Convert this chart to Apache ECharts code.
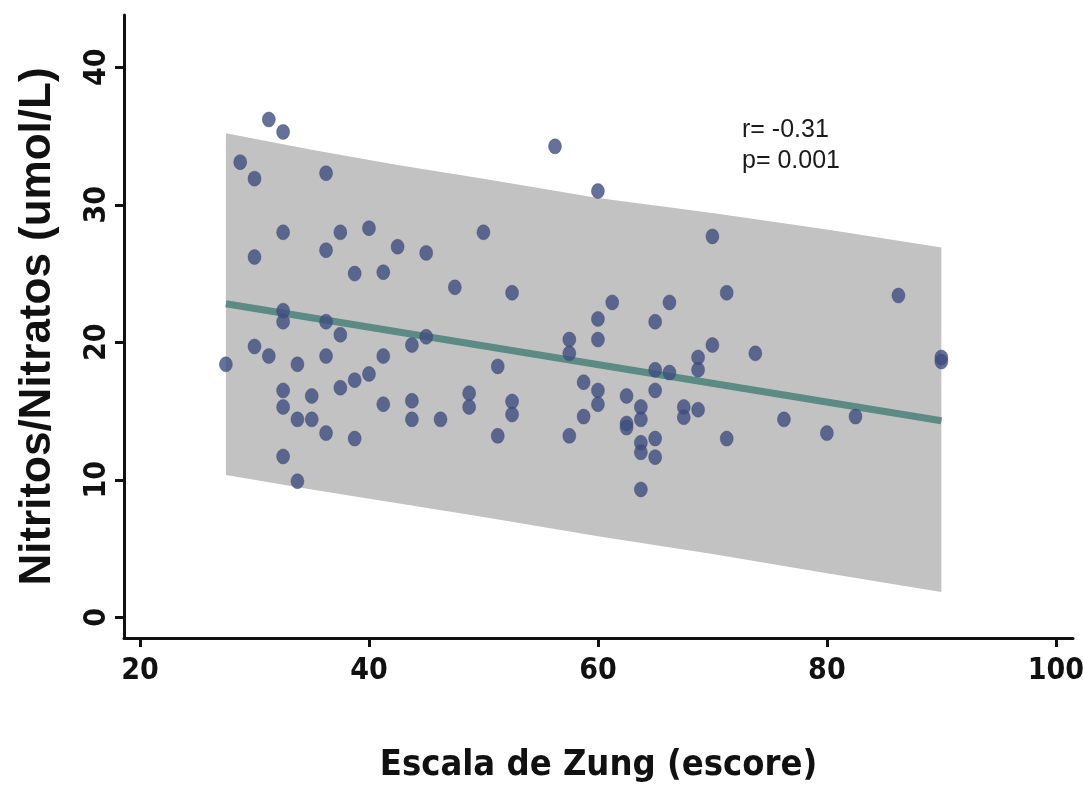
<!DOCTYPE html>
<html>
<head>
<meta charset="utf-8">
<script src="https://cdn.jsdelivr.net/npm/echarts@6/dist/echarts.min.js"></script>
<style>
  html, body { margin: 0; padding: 0; background: #fff; }
  #chart { width: 1083px; height: 794px; }
</style>
</head>
<body>
<div id="chart"></div>
<script>
// Zung depression scale score vs. nitrite/nitrate level
const zungScore = [
  31.25, 32.5, 28.75, 30, 32.5, 30, 36.25, 37.5, 40, 42.5,
  45, 50, 36.25, 38.75, 41.25, 47.5, 32.5, 32.5, 36.25, 37.5,
  45, 30, 43.75, 31.25, 36.25, 41.25, 27.5, 33.75, 51.25, 40,
  38.75, 37.5, 32.5, 35, 48.75, 41.25, 43.75, 32.5, 48.75, 33.75,
  35, 43.75, 46.25, 36.25, 38.75, 51.25, 32.5, 33.75, 56.25, 60,
  70, 52.5, 71.25, 61.25, 66.25, 60, 65, 57.5, 60, 70,
  73.75, 57.5, 68.75, 68.75, 65, 66.25, 58.75, 60, 65, 52.5,
  52.5, 60, 62.5, 63.75, 63.75, 67.5, 67.5, 68.75, 58.75, 62.5,
  62.5, 57.5, 65, 63.75, 63.75, 65, 71.25, 63.75, 86.25, 90,
  90, 76.25, 80, 82.5
];
const nitritos = [
  36.2, 35.3, 33.1, 31.9, 28.0, 26.2, 32.3, 28.0, 28.3, 26.95,
  26.5, 28.0, 26.7, 25.0, 25.1, 24.0, 22.3, 21.5, 21.5, 20.55,
  20.4, 19.7, 19.8, 19.0, 19.0, 19.0, 18.4, 18.4, 18.25, 17.7,
  17.25, 16.7, 16.5, 16.1, 16.3, 15.5, 15.75, 15.3, 15.3, 14.4,
  14.4, 14.4, 14.4, 13.4, 13.0, 13.2, 11.7, 9.9, 34.25, 31.0,
  27.7, 23.6, 23.6, 22.9, 22.9, 21.7, 21.5, 20.2, 20.2, 19.8,
  19.2, 19.2, 18.9, 18.0, 18.0, 17.8, 17.1, 16.5, 16.5, 15.7,
  14.75, 15.5, 16.1, 15.3, 14.4, 15.3, 14.55, 15.1, 14.6, 14.1,
  13.8, 13.2, 13.0, 12.7, 12.0, 11.65, 13.0, 9.3, 23.4, 18.6,
  18.9, 14.4, 13.4, 14.6
];

// Regression line end points
const fitX = [27.5, 90];
const fitY = [22.8, 14.3];

// Prediction band edges
const bandX = [27.5, 35, 42.5, 50, 60, 70, 80, 90];
const bandUpper = [35.2, 34.0, 32.9, 31.9, 30.5, 29.4, 28.2, 26.9];
const bandLower = [10.35, 9.3, 8.3, 7.3, 5.9, 4.6, 3.2, 1.85];

const xTicks = [20, 40, 60, 80, 100];
const yTicks = [0, 10, 20, 30, 40];

const statsText = ['r= -0.31', 'p= 0.001'];

const narrow = "'Liberation Sans Narrow', 'DejaVu Sans Condensed', 'Liberation Sans', sans-serif";
const sans = "'Liberation Sans', Arial, sans-serif";

const chart = echarts.init(document.getElementById('chart'), null, { renderer: 'canvas' });

const points = zungScore.map((x, i) => [x, nitritos[i]]);
const fitLine = fitX.map((x, i) => [x, fitY[i]]);

const axisLineStyle = { color: '#111', width: 3 };

chart.setOption({
  animation: false,
  backgroundColor: '#ffffff',
  grid: { left: 124, right: 10, top: 15, bottom: 156, outerBoundsMode: 'none', containLabel: false },
  title: {
    text: statsText.join('\n'),
    left: 737,
    top: 110,
    textStyle: {
      fontFamily: sans,
      fontWeight: 'normal',
      fontSize: 25,
      lineHeight: 31,
      color: '#1a1a1a'
    }
  },
  xAxis: {
    type: 'value',
    min: 18.6,
    max: 101.5,
    name: 'Escala de Zung (escore)',
    nameLocation: 'middle',
    nameGap: 110,
    nameTextStyle: { fontFamily: narrow, fontWeight: 'bold', fontSize: 36, color: '#111' },
    axisLine: { show: true, onZero: false, lineStyle: axisLineStyle },
    axisTick: { show: true, length: 9, lineStyle: axisLineStyle, customValues: xTicks },
    axisLabel: {
      customValues: xTicks,
      margin: 18,
      fontFamily: narrow,
      fontWeight: 'bold',
      fontSize: 30,
      color: '#111'
    },
    splitLine: { show: false }
  },
  yAxis: {
    type: 'value',
    min: -1.5,
    max: 43.8,
    name: 'Nitritos/Nitratos (umol/L)',
    nameLocation: 'middle',
    nameRotate: 90,
    nameGap: 64,
    nameTextStyle: { fontFamily: sans, fontWeight: 'bold', fontSize: 44, color: '#111' },
    axisLine: { show: true, onZero: false, lineStyle: axisLineStyle },
    axisTick: { show: true, length: 9, lineStyle: axisLineStyle, customValues: yTicks },
    axisLabel: {
      customValues: yTicks,
      rotate: 90,
      margin: 12,
      fontFamily: narrow,
      fontWeight: 'bold',
      fontSize: 30,
      color: '#111'
    },
    splitLine: { show: false }
  },
  series: [
    {
      // prediction band drawn as one polygon through the axis scales
      type: 'custom',
      z: 1,
      silent: true,
      data: [0],
      renderItem: function (params, api) {
        const pts = [];
        for (let i = 0; i < bandX.length; i++) pts.push(api.coord([bandX[i], bandUpper[i]]));
        for (let i = bandX.length - 1; i >= 0; i--) pts.push(api.coord([bandX[i], bandLower[i]]));
        return {
          type: 'polygon',
          shape: { points: pts },
          style: { fill: '#c2c2c2', stroke: null }
        };
      }
    },
    {
      type: 'line',
      z: 2,
      data: fitLine,
      showSymbol: false,
      silent: true,
      lineStyle: { color: '#5b8b83', width: 7 }
    },
    {
      type: 'scatter',
      z: 3,
      data: points,
      symbol: 'circle',
      symbolSize: [13, 15],
      itemStyle: { color: '#3f4e80', borderColor: '#3a4775', borderWidth: 0.5 }
    }
  ]
});
</script>
</body>
</html>
